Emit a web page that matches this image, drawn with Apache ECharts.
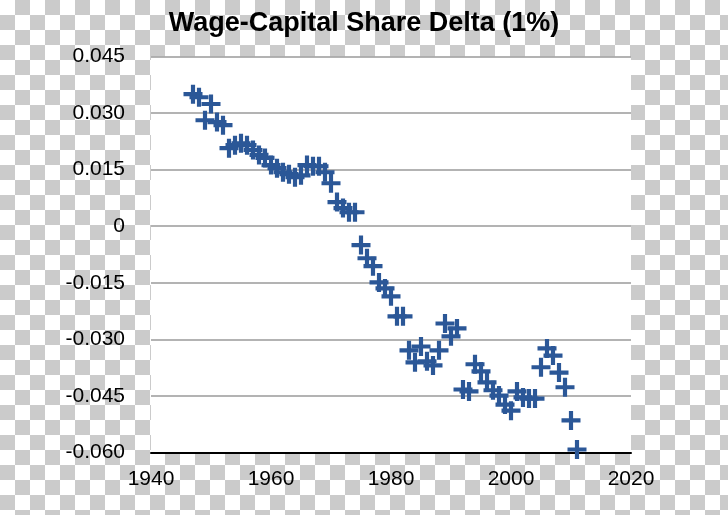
<!DOCTYPE html>
<html>
<head>
<meta charset="utf-8">
<script src="https://cdn.jsdelivr.net/npm/echarts@6/dist/echarts.min.js"></script>
<style>
  html, body { margin: 0; padding: 0; }
  body {
    width: 728px; height: 515px;
    background: repeating-conic-gradient(#cbcbcb 0% 25%, #ffffff 0% 50%) 0 0 / 30px 30px;
  }
  #chart { width: 728px; height: 515px; }
</style>
</head>
<body>
<div id="chart"></div>
<script>
// ---- data ----
const titleText = 'Wage-Capital Share Delta (1%)';
const years = [
  1947, 1948, 1949, 1950, 1951, 1952, 1953, 1954, 1955, 1956,
  1957, 1958, 1959, 1960, 1961, 1962, 1963, 1964, 1965, 1966,
  1967, 1968, 1969, 1970, 1971, 1972, 1973, 1974, 1975, 1976,
  1977, 1978, 1979, 1980, 1981, 1982, 1983, 1984, 1985, 1986,
  1987, 1988, 1989, 1990, 1991, 1992, 1993, 1994, 1995, 1996,
  1997, 1998, 1999, 2000, 2001, 2002, 2003, 2004, 2005, 2006,
  2007, 2008, 2009, 2010, 2011
];
const delta = [
  0.0350, 0.0342, 0.0281, 0.0324, 0.0276, 0.0268, 0.0207, 0.0215, 0.0220, 0.0215,
  0.0202, 0.0189, 0.0181, 0.0162, 0.0154, 0.0143, 0.0138, 0.0130, 0.0135, 0.0162,
  0.0159, 0.0159, 0.0143, 0.0114, 0.0064, 0.0048, 0.0037, 0.0037, -0.0050, -0.0085,
  -0.0106, -0.0149, -0.0165, -0.0186, -0.0239, -0.0239, -0.0329, -0.0361, -0.0319, -0.0358,
  -0.0369, -0.0329, -0.0258, -0.0292, -0.0271, -0.0433, -0.0438, -0.0366, -0.0385, -0.0414,
  -0.0435, -0.0449, -0.0473, -0.0489, -0.0438, -0.0454, -0.0457, -0.0457, -0.0374, -0.0324,
  -0.0343, -0.0388, -0.0427, -0.0515, -0.0592
];
const xTicks = [1940, 1960, 1980, 2000, 2020];
const yTickLabels = ['-0.060', '-0.045', '-0.030', '-0.015', '0', '0.015', '0.030', '0.045'];

// ---- chart ----
const points = years.map((y, i) => [y, delta[i]]);
const chart = echarts.init(document.getElementById('chart'), null, { renderer: 'canvas' });
const yMin = -0.060, yStep = 0.015;

chart.setOption({
  animation: false,
  title: {
    text: titleText,
    left: 'center',
    top: 0,
    padding: [10, 0, 0, 54],
    textStyle: {
      fontFamily: 'Liberation Sans, Arial, sans-serif',
      fontWeight: 'bold',
      fontSize: 27,
      color: '#000'
    }
  },
  grid: {
    left: 151, right: 97, top: 56.5, bottom: 62.5,
    show: true, backgroundColor: '#ffffff', borderWidth: 0
  },
  xAxis: {
    type: 'value',
    min: xTicks[0], max: xTicks[xTicks.length - 1], interval: 20,
    axisLine: { show: true, onZero: false, lineStyle: { color: '#000', width: 2 } },
    axisTick: { show: false },
    splitLine: { show: false },
    axisLabel: {
      margin: 16,
      fontFamily: 'Liberation Sans, Arial, sans-serif',
      fontSize: 21, color: '#000',
      formatter: v => String(Math.round(v))
    }
  },
  yAxis: {
    type: 'value',
    min: yMin, max: 0.045, interval: yStep,
    axisLine: { show: false },
    axisTick: { show: false },
    splitLine: { show: true, lineStyle: { color: '#9a9a9a', width: 1.5 } },
    axisLabel: {
      margin: 26,
      fontFamily: 'Liberation Sans, Arial, sans-serif',
      fontSize: 21, color: '#000',
      padding: [6, 0, 0, 0],
      formatter: v => yTickLabels[Math.round((v - yMin) / yStep)]
    }
  },
  series: [{
    type: 'scatter',
    data: points,
    symbol: 'path://M-1.1,-5 H1.1 V-1.1 H5 V1.1 H1.1 V5 H-1.1 V1.1 H-5 V-1.1 H-1.1 Z',
    symbolSize: 19,
    itemStyle: { color: '#2b5797', opacity: 1 },
    z: 5
  }]
});
</script>
</body>
</html>
